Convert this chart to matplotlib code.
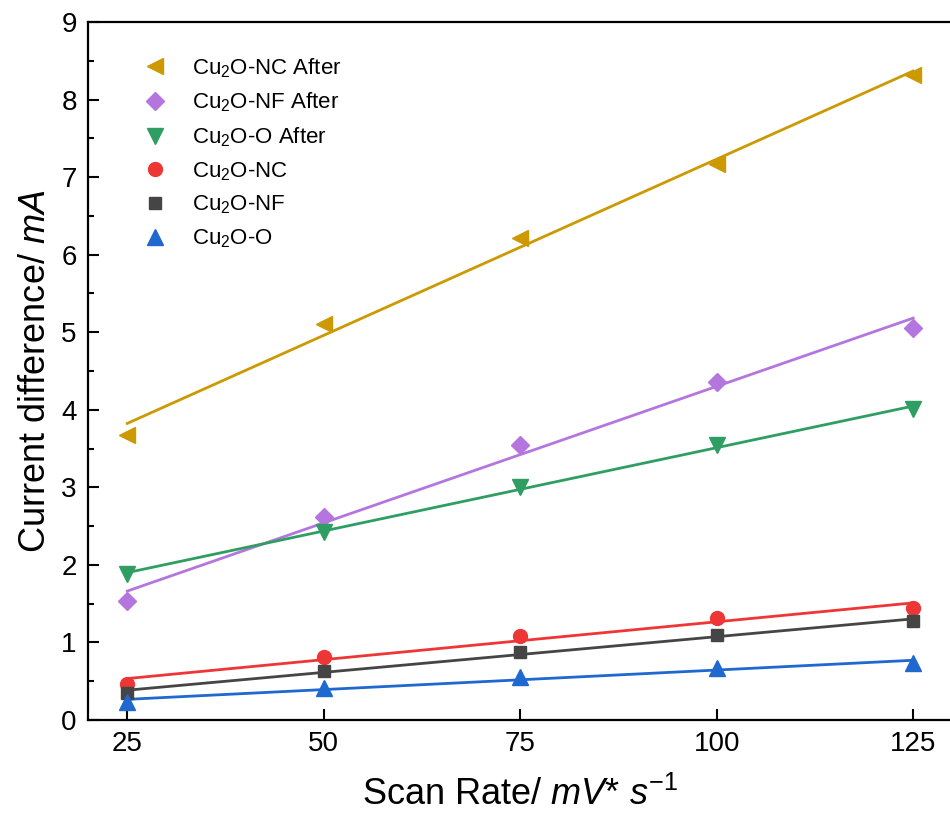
import numpy as np
import matplotlib
matplotlib.use('Agg')
import matplotlib.pyplot as plt
from matplotlib.ticker import MultipleLocator

plt.rcParams['font.family'] = 'Liberation Sans'
plt.rcParams['mathtext.fontset'] = 'custom'
plt.rcParams['mathtext.rm'] = 'Liberation Sans'
plt.rcParams['mathtext.it'] = 'Liberation Sans:italic'

scan_rate = [25, 50, 75, 100, 125]

nc_after = [3.67, 5.11, 6.21, 7.17, 8.32]
nf_after = [1.53, 2.62, 3.54, 4.36, 5.06]
o_after = [1.88, 2.43, 3.01, 3.54, 4.01]
nc = [0.47, 0.81, 1.08, 1.31, 1.44]
nf = [0.35, 0.63, 0.88, 1.09, 1.27]
o = [0.23, 0.41, 0.55, 0.67, 0.73]

series = [
    ('Cu$_2$O-NC After', nc_after, '#CC9900', '<', 12),
    ('Cu$_2$O-NF After', nf_after, '#B476DE', 'D', 9),
    ('Cu$_2$O-O After', o_after, '#2E9E62', 'v', 12),
    ('Cu$_2$O-NC', nc, '#EE3636', 'o', 10),
    ('Cu$_2$O-NF', nf, '#454545', 's', 9),
    ('Cu$_2$O-O', o, '#1E68D0', '^', 12),
]

fig = plt.figure(figsize=(9.5, 8.25), dpi=100)
ax = fig.add_axes([0.0926, 0.1273, 0.91, 0.846])

x = np.array(scan_rate)
handles = []
for label, y, color, marker, ms in series:
    # linear fit through each series
    k, b = np.polyfit(x, y, 1)
    ax.plot(x, k * x + b, color=color, lw=2.0, zorder=2)
    h, = ax.plot(x, y, ls='none', marker=marker, ms=ms, color=color,
                 mec=color, label=label, zorder=3)
    handles.append(h)

ax.set_xlim(20, 130)
ax.set_ylim(0, 9)
ax.set_xticks(scan_rate)
ax.yaxis.set_major_locator(MultipleLocator(1))
ax.yaxis.set_minor_locator(MultipleLocator(0.5))
ax.tick_params(which='both', direction='in', labelsize=20, width=1.5)
ax.tick_params(which='major', length=8, pad=8)
ax.tick_params(which='minor', length=4)
for s in ax.spines.values():
    s.set_linewidth(1.6)
ax.spines['right'].set_visible(False)

ax.set_xlabel('Scan Rate/ $mV$* $s^{-1}$', fontsize=26, labelpad=14)
ax.set_ylabel('Current difference/ $mA$', fontsize=26, labelpad=6)

ax.legend(handles=handles, loc='upper left', frameon=False, fontsize=16,
          bbox_to_anchor=(0.035, 0.98), handletextpad=0.9, labelspacing=0.5,
          handlelength=1.5)

fig.savefig('out.png', dpi=100)
